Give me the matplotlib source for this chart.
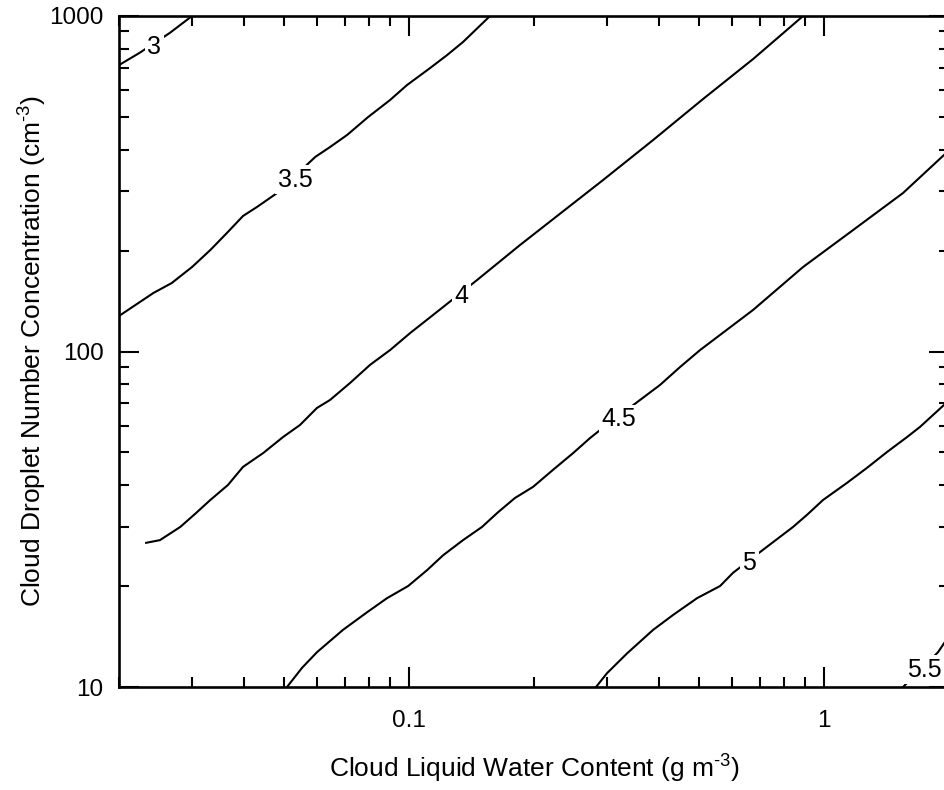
import numpy as np
import matplotlib
matplotlib.use("Agg")
import matplotlib.pyplot as plt
from matplotlib import ticker

plt.rcParams['font.family'] = ['Liberation Sans', 'DejaVu Sans']
plt.rcParams['mathtext.fontset'] = 'custom'
plt.rcParams['mathtext.rm'] = 'Liberation Sans'
plt.rcParams['mathtext.it'] = 'Liberation Sans'

# Contour lines: (liquid water content g m-3, droplet number cm-3)
lwc_30 = [0.0200, 0.0224, 0.0265, 0.0300]
nd_30 = [714, 776, 890, 1000]

lwc_35 = [0.0200, 0.0242, 0.0268, 0.0300, 0.0332, 0.0364, 0.0398, 0.0430, 0.0481,
          0.0594, 0.0645, 0.0709, 0.0797, 0.0900, 0.0989, 0.1124, 0.1235, 0.1349, 0.1567]
nd_35 = [127.6, 149.4, 160.0, 178.6, 200.7, 225.6, 253.5, 269.6, 296.8,
         380.0, 406.9, 441.9, 500.0, 561.9, 622.8, 699.8, 764.9, 836.6, 1000]

lwc_40 = [0.02325, 0.0251, 0.0281, 0.0305, 0.0332, 0.0366, 0.0398, 0.0445, 0.0497, 0.0546,
          0.0600, 0.0645, 0.0721, 0.0805, 0.0900, 0.1006, 0.1208, 0.1459, 0.1851, 0.2934,
          0.3873, 0.5110, 0.6744, 0.8901]
nd_40 = [26.9, 27.4, 30.0, 32.8, 36.1, 40.0, 45.3, 49.8, 55.6, 60.4,
         67.9, 71.7, 80.6, 91.2, 101.0, 113.5, 135.7, 163.4, 207.7, 324.4,
         426.9, 565.7, 744.1, 1000]

lwc_45 = [0.0508, 0.0552, 0.0600, 0.0693, 0.0792, 0.0885, 0.0995, 0.1105, 0.1208, 0.1349,
          0.1499, 0.1639, 0.1800, 0.1990, 0.2223, 0.2485, 0.2729, 0.2885, 0.3602, 0.4025,
          0.4498, 0.5026, 0.6744, 0.8901, 1.175, 1.550, 2.0]
nd_45 = [10.0, 11.4, 12.7, 14.8, 16.7, 18.4, 20.0, 22.3, 24.7, 27.4,
         30.0, 33.2, 36.6, 39.5, 44.4, 49.8, 55.2, 58.3, 71.7, 79.5,
         89.9, 101.0, 133.0, 178.6, 230.2, 296.8, 397.7]

lwc_50 = [0.2822, 0.3000, 0.3353, 0.3873, 0.4328, 0.4943, 0.5616, 0.6035, 0.7291, 0.8420,
          0.9098, 0.9945, 1.136, 1.269, 1.419, 1.585, 1.703, 2.0]
nd_50 = [10.0, 11.0, 12.6, 14.8, 16.4, 18.4, 20.0, 21.9, 26.2, 30.0,
         32.6, 36.1, 40.6, 45.0, 50.2, 55.6, 59.6, 71.5]

lwc_55 = [1.550, 1.882, 1.946, 2.0]
nd_55 = [10.0, 12.7, 13.5, 14.2]

lines = [(lwc_30, nd_30), (lwc_35, nd_35), (lwc_40, nd_40),
         (lwc_45, nd_45), (lwc_50, nd_50), (lwc_55, nd_55)]

# label text and where it sits on its line
label_text = ['3', '3.5', '4', '4.5', '5', '5.5']
label_lwc = [0.0243, 0.0531, 0.1334, 0.3206, 0.6598, 1.742]
label_nd = [825, 331, 149.4, 63.8, 23.9, 11.47]

fig = plt.figure(figsize=(9.44, 7.90), dpi=100)
ax = fig.add_axes([119 / 944, 103 / 790, 830 / 944, 671 / 790])

for x, y in lines:
    ax.plot(x, y, color='black', lw=1.5, zorder=2)

for t, x, y in zip(label_text, label_lwc, label_nd):
    ax.text(x, y, t, fontsize=18, ha='center', va='center_baseline', zorder=3,
            bbox=dict(boxstyle='square,pad=0.1', fc='white', ec='none'))

ax.set_xscale('log')
ax.set_yscale('log')
ax.set_xlim(0.02, 2)
ax.set_ylim(10, 1000)

ax.xaxis.set_major_locator(ticker.FixedLocator([0.1, 1]))
ax.xaxis.set_major_formatter(ticker.FixedFormatter(['0.1', '1']))
ax.yaxis.set_major_locator(ticker.FixedLocator([10, 100, 1000]))
ax.yaxis.set_major_formatter(ticker.FixedFormatter(['10', '100', '1000']))
for axis in (ax.xaxis, ax.yaxis):
    axis.set_minor_locator(ticker.LogLocator(base=10, subs=np.arange(2, 10)))
    axis.set_minor_formatter(ticker.NullFormatter())

ax.tick_params(which='both', direction='in', top=True, right=True, width=1.5,
               labelsize=17.5)
ax.tick_params(which='major', length=14.4)
ax.tick_params(which='minor', length=7.2)
ax.tick_params(axis='x', which='major', pad=16.5)
ax.tick_params(axis='y', which='major', pad=11)
for sp in ax.spines.values():
    sp.set_linewidth(1.9)

ax.set_xlabel(r'Cloud Liquid Water Content (g m$^{\text{-3}}$)', fontsize=19)
ax.set_ylabel(r'Cloud Droplet Number Concentration (cm$^{\text{-3}}$)', fontsize=19)
ax.xaxis.set_label_coords(0.5, -66 / 671)
ax.yaxis.set_label_coords(-70 / 830, 0.5)

fig.savefig('out.png', dpi=100)
